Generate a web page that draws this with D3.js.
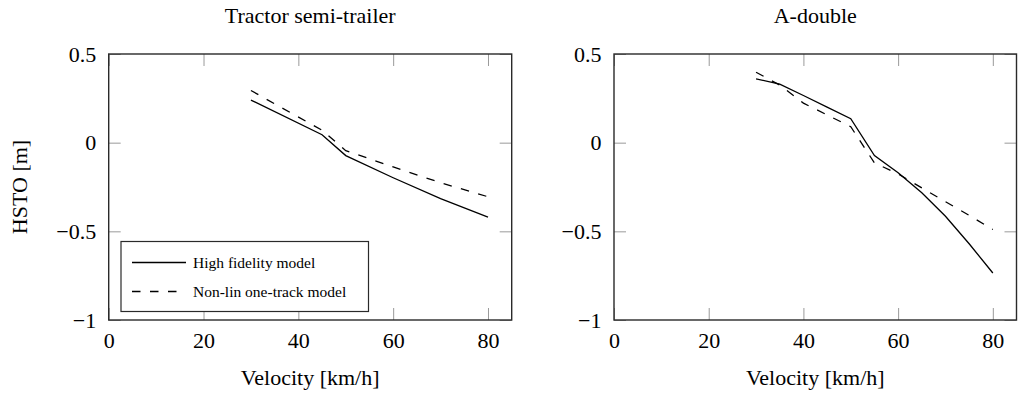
<!DOCTYPE html>
<html>
<head>
<meta charset="utf-8">
<script src="https://cdn.jsdelivr.net/npm/d3@7"></script>
<style>
  body { margin: 0; background: #fff; }
  text { font-family: "Liberation Serif", "Times New Roman", serif; fill: #000; }
</style>
</head>
<body>
<div id="chart"></div>
<script>
/* data */
const xTicks = [0, 20, 40, 60, 80];
const yTicks = [-1, -0.5, 0, 0.5];

const tractorSpeed = [30, 45, 50, 60, 70, 80];
const tractorHighFid = [0.24, 0.045, -0.073, -0.198, -0.316, -0.42];
const tractorOneTrackSpeed = [30, 45, 50, 60, 70, 80];
const tractorOneTrack = [0.294, 0.07, -0.045, -0.137, -0.226, -0.305];

const adoubleSpeed = [30, 35, 40, 45, 50, 55, 60, 65, 70, 75, 80];
const adoubleHighFid = [0.36, 0.33, 0.266, 0.2, 0.135, -0.073, -0.17, -0.283, -0.415, -0.57, -0.735];
const adoubleOneTrackSpeed = [30, 35, 40, 50, 55, 60, 65, 70, 75, 80];
const adoubleOneTrack = [0.397, 0.325, 0.223, 0.09, -0.114, -0.176, -0.255, -0.333, -0.41, -0.49];

const seriesNames = ["High fidelity model", "Non-lin one-track model"];
const titles = ["Tractor semi-trailer", "A-double"];

const W = 1021, H = 397;
const plotTop = 54, plotBottom = 320;
const panels = [
  {left: 108.7, right: 511.7, title: titles[0], legend: true, ylabel: true,
   series: [[tractorSpeed, tractorHighFid], [tractorOneTrackSpeed, tractorOneTrack]]},
  {left: 614, right: 1016.5, title: titles[1], legend: false, ylabel: false,
   series: [[adoubleSpeed, adoubleHighFid], [adoubleOneTrackSpeed, adoubleOneTrack]]}
];
const dashes = [null, "8.5,9.5"];

var svg = d3.select("#chart").append("svg")
  .attr("width", W).attr("height", H);

var fmt = function(d){ return (d < 0 ? "\u2212" : "") + Math.abs(d); };

panels.forEach(function(p){
  var x = d3.scaleLinear().domain([0, 85]).range([p.left, p.right]);
  var y = d3.scaleLinear().domain([-1, 0.5]).range([plotBottom, plotTop]);
  var g = svg.append("g");

  // ticks (inside, on all four sides)
  var ax = [
    [d3.axisBottom(x).tickValues(xTicks).tickFormat(fmt), "translate(0," + plotBottom + ")"],
    [d3.axisTop(x).tickValues(xTicks).tickFormat(""), "translate(0," + plotTop + ")"],
    [d3.axisLeft(y).tickValues(yTicks).tickFormat(fmt), "translate(" + p.left + ",0)"],
    [d3.axisRight(y).tickValues(yTicks).tickFormat(""), "translate(" + p.right + ",0)"]
  ];
  ax.forEach(function(a){
    var sel = g.append("g").attr("transform", a[1])
      .call(a[0].tickSize(-12).tickPadding(12.5));
    sel.select(".domain").remove();
    sel.selectAll("line").attr("stroke", "#9a9a9a").attr("stroke-width", 1);
    sel.selectAll("text").attr("font-size", "22px")
      .style("font-family", "'Liberation Serif', serif").attr("fill", "#000");
  });

  g.append("rect")
    .attr("x", p.left).attr("y", plotTop)
    .attr("width", p.right - p.left).attr("height", plotBottom - plotTop)
    .attr("fill", "none").attr("stroke", "#2a2a2a").attr("stroke-width", 1.4);

  var line = d3.line().x(function(d){ return x(d[0]); }).y(function(d){ return y(d[1]); });
  p.series.forEach(function(s, i){
    var pts = s[0].map(function(v, j){ return [v, s[1][j]]; });
    g.append("path").datum(pts)
      .attr("d", line)
      .attr("fill", "none").attr("stroke", "#000").attr("stroke-width", 1.3)
      .attr("stroke-dasharray", dashes[i]);
  });

  g.append("text")
    .attr("x", (p.left + p.right) / 2).attr("y", 23)
    .attr("text-anchor", "middle").attr("font-size", "22px")
    .text(p.title);

  g.append("text")
    .attr("x", (p.left + p.right) / 2).attr("y", 385)
    .attr("text-anchor", "middle").attr("font-size", "22px")
    .text("Velocity [km/h]");

  if (p.ylabel) {
    g.append("text")
      .attr("transform", "translate(27," + ((plotTop + plotBottom) / 2) + ") rotate(-90)")
      .attr("text-anchor", "middle").attr("font-size", "22px")
      .text("HSTO [m]");
  }

  if (p.legend) {
    var lg = g.append("g");
    lg.append("rect")
      .attr("x", 121).attr("y", 241.5).attr("width", 247.5).attr("height", 70)
      .attr("fill", "#fff").attr("stroke", "#2a2a2a").attr("stroke-width", 1.2);
    var items = lg.selectAll("g.item").data(seriesNames).enter()
      .append("g").attr("class", "item")
      .attr("transform", function(d, i){ return "translate(0," + (262.5 + 29 * i) + ")"; });
    items.append("line")
      .attr("x1", 132).attr("x2", 186).attr("y1", 0).attr("y2", 0)
      .attr("stroke", "#000").attr("stroke-width", 1.3)
      .attr("stroke-dasharray", function(d, i){ return dashes[i]; });
    items.append("text")
      .attr("x", 193).attr("y", 0).attr("dy", "0.33em")
      .attr("font-size", "15.5px")
      .text(function(d){ return d; });
  }
});
</script>
</body>
</html>
